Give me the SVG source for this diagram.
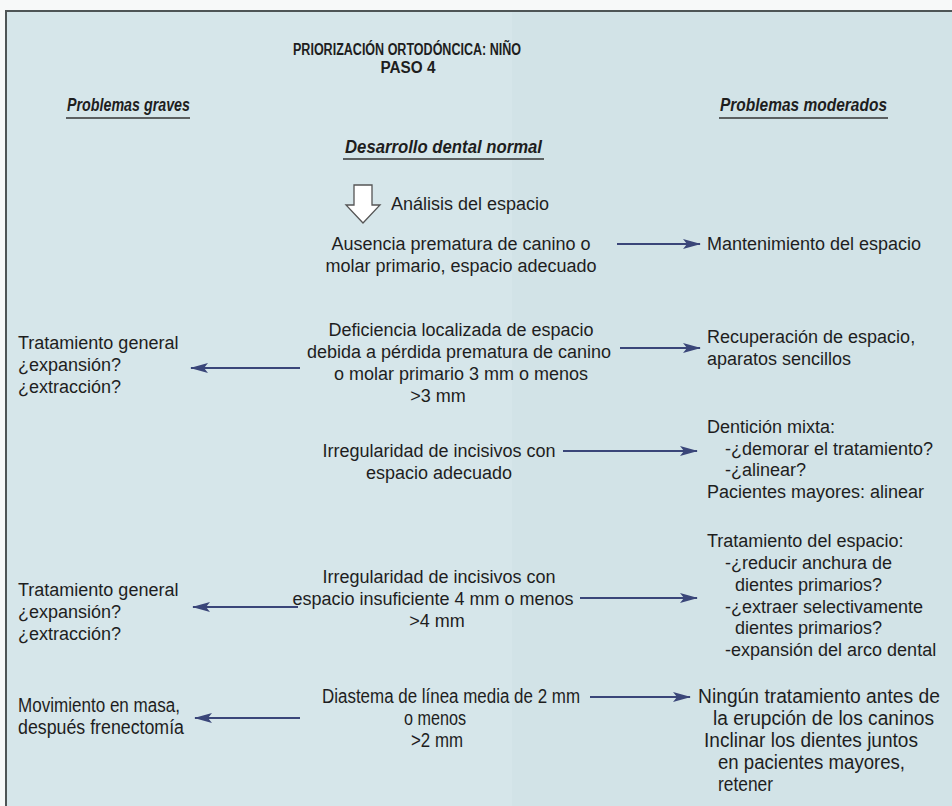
<svg xmlns="http://www.w3.org/2000/svg" width="952" height="806" viewBox="0 0 952 806">
  <style>
    .t { font-family: "Liberation Sans", Arial, sans-serif; font-size: 18px; fill: #1e1e1e; }
    .n { font-family: "Liberation Sans", Arial, sans-serif; font-size: 20px; fill: #1e1e1e; }
    .m { text-anchor: middle; }
    .hd { font-family: "Liberation Sans", Arial, sans-serif; font-weight: bold; font-size: 16px; fill: #1e1e1e; text-anchor: middle; }
    .sub { font-family: "Liberation Sans", Arial, sans-serif; font-weight: bold; font-style: italic; font-size: 18px; fill: #1e1e1e; }
    .ul { stroke: #333; stroke-width: 1.5; }
    .arr { stroke: #3a4679; stroke-width: 2; fill: none; marker-end: url(#head); }
  </style>
  <defs>
    <marker id="head" viewBox="0 0 18 10" refX="17" refY="5" markerWidth="18" markerHeight="10" markerUnits="userSpaceOnUse" orient="auto">
      <path d="M0,0 L18,5 L0,10 L4,5 Z" fill="#3a4679"/>
    </marker>
  </defs>

  <!-- page and panel -->
  <rect x="0" y="0" width="952" height="806" fill="#f7f9f9"/>
  <rect x="6" y="11" width="950" height="800" fill="#d6e6ea" stroke="#4e5556" stroke-width="2"/>
  <rect x="512" y="12" width="440" height="794" fill="#cddfe4" opacity="0.5"/>

  <!-- headings -->
  <g id="title">
    <text class="hd" x="407" y="55" textLength="228" lengthAdjust="spacingAndGlyphs">PRIORIZACIÓN ORTODÓNCICA: NIÑO</text>
    <text class="hd" x="408" y="73" textLength="55" lengthAdjust="spacingAndGlyphs">PASO 4</text>
  </g>
  <g id="col-graves">
    <text class="sub" x="67" y="111" textLength="123" lengthAdjust="spacingAndGlyphs">Problemas graves</text>
    <line class="ul" x1="66" y1="118" x2="190" y2="118"/>
  </g>
  <g id="col-moderados">
    <text class="sub" x="720" y="111" textLength="167" lengthAdjust="spacingAndGlyphs">Problemas moderados</text>
    <line class="ul" x1="719" y1="118" x2="888" y2="118"/>
  </g>
  <g id="normal">
    <text class="sub" x="345" y="153" textLength="197" lengthAdjust="spacingAndGlyphs">Desarrollo dental normal</text>
    <line class="ul" x1="343" y1="159" x2="544" y2="159"/>
  </g>

  <!-- space analysis step -->
  <g id="analisis">
    <path d="M354,185 H372 V205 H380 L363,223 L346,205 H354 Z" fill="#ffffff" stroke="#555" stroke-width="1.3"/>
    <text class="t" x="391" y="210">Análisis del espacio</text>
  </g>

  <!-- centre column conditions -->
  <g id="c1">
    <text class="t m" x="461" y="250">Ausencia prematura de canino o</text>
    <text class="t m" x="461" y="272">molar primario, espacio adecuado</text>
  </g>
  <g id="c2">
    <text class="t m" x="461" y="336">Deficiencia localizada de espacio</text>
    <text class="t m" x="459" y="358">debida a pérdida prematura de canino</text>
    <text class="t m" x="461" y="380">o molar primario 3 mm o menos</text>
    <text class="t m" x="438" y="402">&gt;3 mm</text>
  </g>
  <g id="c3">
    <text class="t m" x="439" y="457">Irregularidad de incisivos con</text>
    <text class="t m" x="439" y="479">espacio adecuado</text>
  </g>
  <g id="c4">
    <text class="t m" x="439" y="583">Irregularidad de incisivos con</text>
    <text class="t m" x="433" y="605">espacio insuficiente 4 mm o menos</text>
    <text class="t m" x="437" y="627">&gt;4 mm</text>
  </g>
  <g id="c5">
    <text class="n" x="322" y="703" textLength="258" lengthAdjust="spacingAndGlyphs">Diastema de línea media de 2 mm</text>
    <text class="n" x="404" y="725" textLength="62" lengthAdjust="spacingAndGlyphs">o menos</text>
    <text class="n" x="411" y="747" textLength="52" lengthAdjust="spacingAndGlyphs">&gt;2 mm</text>
  </g>

  <!-- left column: severe problems -->
  <g id="l1">
    <text class="t" x="18" y="349">Tratamiento general</text>
    <text class="t" x="18" y="371">¿expansión?</text>
    <text class="t" x="18" y="393">¿extracción?</text>
  </g>
  <g id="l2">
    <text class="t" x="18" y="596">Tratamiento general</text>
    <text class="t" x="18" y="618">¿expansión?</text>
    <text class="t" x="18" y="640">¿extracción?</text>
  </g>
  <g id="l3">
    <text class="n" x="18" y="712" textLength="162" lengthAdjust="spacingAndGlyphs">Movimiento en masa,</text>
    <text class="n" x="18" y="734" textLength="166" lengthAdjust="spacingAndGlyphs">después frenectomía</text>
  </g>

  <!-- right column: moderate problems -->
  <g id="r1">
    <text class="t" x="707" y="250">Mantenimiento del espacio</text>
  </g>
  <g id="r2">
    <text class="t" x="707" y="343">Recuperación de espacio,</text>
    <text class="t" x="707" y="365">aparatos sencillos</text>
  </g>
  <g id="r3">
    <text class="t" x="707" y="433">Dentición mixta:</text>
    <text class="t" x="725" y="455">-¿demorar el tratamiento?</text>
    <text class="t" x="725" y="476">-¿alinear?</text>
    <text class="t" x="707" y="498">Pacientes mayores: alinear</text>
  </g>
  <g id="r4">
    <text class="t" x="707" y="547">Tratamiento del espacio:</text>
    <text class="t" x="725" y="569">-¿reducir anchura de</text>
    <text class="t" x="735" y="591">dientes primarios?</text>
    <text class="t" x="725" y="613">-¿extraer selectivamente</text>
    <text class="t" x="735" y="634">dientes primarios?</text>
    <text class="t" x="725" y="656">-expansión del arco dental</text>
  </g>
  <g id="r5">
    <text class="n" x="698" y="703" textLength="242" lengthAdjust="spacingAndGlyphs">Ningún tratamiento antes de</text>
    <text class="n" x="713" y="725" textLength="221" lengthAdjust="spacingAndGlyphs">la erupción de los caninos</text>
    <text class="n" x="704" y="747" textLength="214" lengthAdjust="spacingAndGlyphs">Inclinar los dientes juntos</text>
    <text class="n" x="718" y="769" textLength="187" lengthAdjust="spacingAndGlyphs">en pacientes mayores,</text>
    <text class="n" x="718" y="791" textLength="55" lengthAdjust="spacingAndGlyphs">retener</text>
  </g>

  <!-- connectors -->
  <g id="connectors">
    <line class="arr" x1="617" y1="244" x2="700" y2="244"/>
    <line class="arr" x1="620" y1="348" x2="700" y2="348"/>
    <line class="arr" x1="300" y1="368" x2="191" y2="368"/>
    <line class="arr" x1="563" y1="451" x2="697" y2="451"/>
    <line class="arr" x1="580" y1="598" x2="697" y2="598"/>
    <line class="arr" x1="298" y1="607" x2="193" y2="607"/>
    <line class="arr" x1="590" y1="697" x2="690" y2="697"/>
    <line class="arr" x1="300" y1="718" x2="195" y2="718"/>
  </g>
</svg>
